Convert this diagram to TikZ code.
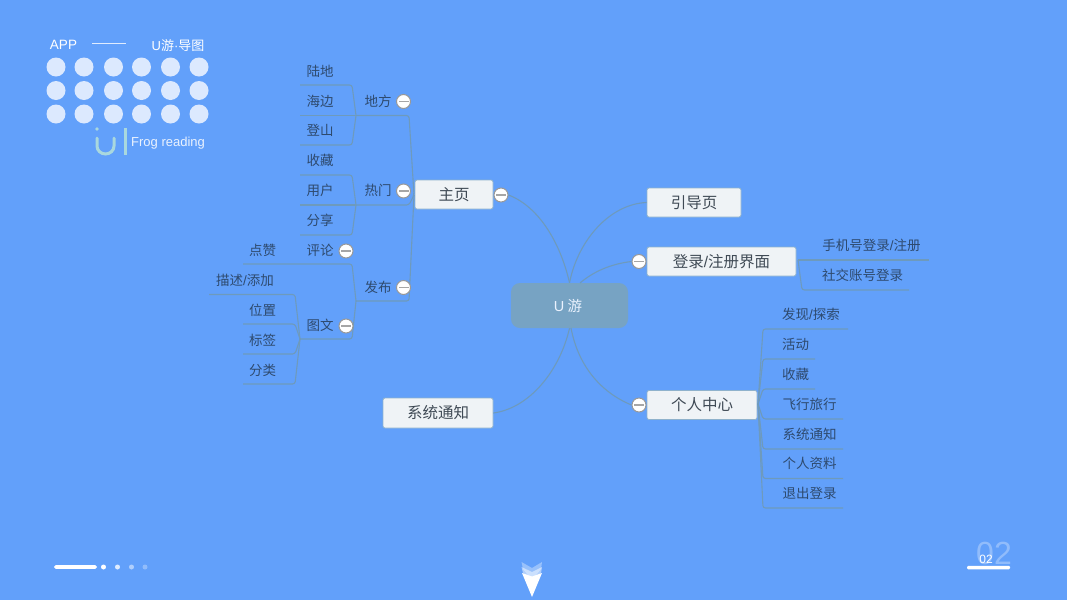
\documentclass[tikz,border=0pt]{standalone}
\usepackage{fontspec}
\setmainfont{Noto Sans CJK SC}
\newfontfamily\latinf{Liberation Sans}
\definecolor{bgc}{HTML}{62A0FA}
\definecolor{conn}{HTML}{6E9ABC}
\definecolor{leaftxt}{HTML}{2E4A6E}
\definecolor{boxtxt}{HTML}{3F4A55}
\definecolor{boxfill}{HTML}{EFF3F6}
\definecolor{boxline}{HTML}{8FB2CC}
\definecolor{dotc}{HTML}{DCE9FE}
\definecolor{uic}{HTML}{A9D8DE}
\definecolor{rootfill}{HTML}{77A3C3}
\tikzset{
  x=1pt,y=-1pt,
  connline/.style={draw=conn,line width=1.1pt,rounded corners=2.5pt},
  curveline/.style={draw=conn,line width=1.1pt},
  leaf/.style={text=leaftxt,inner sep=0pt,font=\fontsize{13.5}{16}\selectfont},
  topicbox/.style={draw=boxline,fill=boxfill,line width=0.8pt,rounded corners=2pt,text=boxtxt,inner sep=0pt,font=\fontsize{15.5}{18}\selectfont},
  collapse/.style={circle,draw=black!40,fill=white,line width=1pt,minimum size=14pt,inner sep=0pt,
    path picture={\fill[black!35] ([xshift=-5pt,yshift=-0.8pt]path picture bounding box.center) rectangle ([xshift=5pt,yshift=0.8pt]path picture bounding box.center);}},
  dotn/.style={circle,fill=dotc,minimum size=19pt,inner sep=0pt},
  smallw/.style={text=white,inner sep=0pt},
}
\begin{document}
\begin{tikzpicture}
\useasboundingbox (0,0) rectangle (1067,600);
\fill[bgc] (0,0) rectangle (1067,600);

% logo block
\node[smallw,font=\latinf\fontsize{13.5}{15}\selectfont] (app) at (63.5,44.5) {APP};
\coordinate (la) at (92,43.5); \coordinate (lb) at (126,43.5);
\draw[white!80!bgc,line width=0.6pt] (la) -- (lb);
\node[smallw,font=\fontsize{13}{15}\selectfont] (ttl) at (178,45.5) {{\latinf U}游{\latinf ·}导图};
\foreach \x [count=\i] in {56,84,113.5,141.5,170.5,199}
  \foreach \y [count=\j] in {67,90.5,114}
    \node[dotn] (d\i\j) at (\x,\y) {};
\node[smallw,anchor=west,font=\latinf\fontsize{13}{15}\selectfont,text=dotc!60!white] (frog) at (131,143) {Frog reading};
\fill[uic] (97,129) circle (1.8);
\draw[uic,line width=3pt,line cap=round] (97,138) -- (97,146) arc[start angle=180,end angle=0,x radius=8.5,y radius=8] -- (114,138);
\draw[uic,line width=3pt] (125,128) -- (125,155);

% main nodes
\node[rectangle,fill=rootfill,rounded corners=9pt,minimum width=117pt,minimum height=45pt,inner sep=0pt,text=dotc!60!white,font=\fontsize{14.5}{17}\selectfont] (root) at (569.5,305.5) {\kern-3pt{\latinf U} 游};
\node[topicbox,minimum width=78pt,minimum height=29pt] (home) at (454,194.5) {主页};
\node[topicbox,minimum width=94pt,minimum height=29pt] (guide) at (694,202.5) {引导页};
\node[topicbox,minimum width=149pt,minimum height=29pt] (login) at (721.5,261.5) {登录{\latinf /}注册界面};
\node[topicbox,minimum width=110pt,minimum height=29pt] (me) at (702,405) {个人中心};
\node[topicbox,minimum width=110pt,minimum height=30pt] (notify) at (438,413) {系统通知};

% left side junctions and branches drawn first, under the buttons
\coordinate (jplace) at (356,115.5);
\coordinate (jhot) at (356,205);
\coordinate (jpub) at (356,301);
\coordinate (jpost) at (300,339);
\coordinate (hubhome) at (414,195);
\draw[connline] (jplace) -- (409,115.5) -- (hubhome) -- (409,205) -- (jhot);
\draw[connline] (hubhome) -- (409,301) -- (jpub);

% place
\foreach \n/\y in {a/85,c/145} {
  \coordinate (p\n) at (300,\y);
  \draw[connline] (jplace) -- (352,\y) -- (p\n);
}
\coordinate (pb) at (300,115.5); \draw[connline] (jplace) -- (pb);
% hot
\foreach \n/\y in {a/175,c/235} {
  \coordinate (h\n) at (300,\y);
  \draw[connline] (jhot) -- (352,\y) -- (h\n);
}
\coordinate (hb) at (300,205); \draw[connline] (jhot) -- (hb);
% publish
\coordinate (ca) at (243,264);
\draw[connline] (jpub) -- (352,264) -- (ca);
\draw[connline] (jpub) -- (352,339) -- (jpost);
% post
\coordinate (ta) at (209,294.5); \draw[connline] (jpost) -- (295,294.5) -- (ta);
\coordinate (tb) at (243,324); \draw[connline] (jpost) -- (295,324) -- (tb);
\coordinate (tc) at (243,354); \draw[connline] (jpost) -- (295,354) -- (tc);
\coordinate (td) at (243,384); \draw[connline] (jpost) -- (295,384) -- (td);

% login children
\coordinate (jlogin) at (798,260);
\coordinate (la1) at (929,260); \draw[connline] (jlogin) -- (la1);
\coordinate (la2) at (909,290); \draw[connline] (jlogin) -- (802,290) -- (la2);

% me children
\coordinate (jme) at (758,404);
\foreach \n/\y/\xe in {a/329/848,b/359/815,c/389/815,d/419/843,e/449/843,f/478.5/843,g/508/843} {
  \coordinate (e\n) at (\xe,\y);
  \draw[connline] (jme) -- (763,\y) -- (e\n);
}

% collapse buttons
\node[collapse] (mhome) at (501,195) {};
\node[collapse] (mplace) at (403.5,101.5) {};
\node[collapse] (mhot) at (403.5,191) {};
\node[collapse] (mpub) at (403.5,287.5) {};
\node[collapse] (mcomm) at (346,251) {};
\node[collapse] (mpost) at (346,326) {};
\node[collapse] (mlogin) at (639,261.5) {};
\node[collapse] (mme) at (639,405) {};

% curves from the root
\draw[curveline] (root.north) .. controls (561,245) and (540,207) .. (mhome.east);
\draw[curveline] (root.north) .. controls (578,240) and (610,204) .. (guide.west);
\coordinate (rq) at (580,283);
\draw[curveline] (rq) .. controls (593,272) and (610,264) .. (mlogin.west);
\coordinate (rs) at (571,328);
\draw[curveline] (rs) .. controls (578,365) and (600,392) .. (mme.west);
\draw[curveline] (root.south) .. controls (560,370) and (530,408) .. (notify.east);

% leaf labels
\foreach \n/\x/\y/\t in {
  t1/320/71/陆地, t2/320/101/海边, t3/320/130.5/登山,
  t4/378/101/地方, t5/320/160/收藏, t6/320/190/用户, t7/320/220/分享,
  t8/378/190.5/热门, t9/262.5/250/点赞, t10/320/250/评论, t11/378/287/发布,
  t12/320/325/图文, t13/262.5/310/位置, t14/262.5/340/标签, t15/262.5/370/分类,
  t16/795.5/344/活动, t17/795.5/374/收藏, t18/809.5/404/飞行旅行,
  t19/809.5/434/系统通知, t20/809.5/463.5/个人资料, t21/809.5/493.5/退出登录,
  t22/862.5/275.5/社交账号登录}
  \node[leaf] (\n) at (\x,\y) {\t};
\node[leaf] (t23) at (245,280.5) {描述{\latinf /}添加};
\node[leaf] (t24) at (871.5,245.5) {手机号登录{\latinf /}注册};
\node[leaf] (t25) at (811,314.5) {发现{\latinf /}探索};

% bottom-left progress
\fill[white,rounded corners=1.7pt] (54,565.2) rectangle (97,568.8);
\fill[white] (103.5,567) circle (2.5);
\fill[white,opacity=.8] (117.5,567) circle (2.5);
\fill[white,opacity=.5] (131.5,567) circle (2.5);
\fill[white,opacity=.3] (145,567) circle (2.5);

% bottom chevrons
\fill[white,opacity=.35] (521.5,562) -- (532,568) -- (542,562) -- (541,569) -- (532,580) -- (523,569) -- cycle;
\fill[white,opacity=.5] (521.5,567) -- (532,572) -- (542,567) -- (541,573) -- (532,583) -- (523,573) -- cycle;
\fill[white] (522,573) -- (532,576.5) -- (542,573) -- (532,597) -- cycle;

% page number
\node[inner sep=0pt,text=white,opacity=.3,font=\latinf\fontsize{32}{36}\selectfont] (pgb) at (994,553.5) {02};
\node[smallw,font=\latinf\fontsize{12}{14}\selectfont] (pgs) at (986,559.5) {02};
\fill[white,rounded corners=1.2pt] (967,565.8) rectangle (1010,569.3);
\end{tikzpicture}
\end{document}
